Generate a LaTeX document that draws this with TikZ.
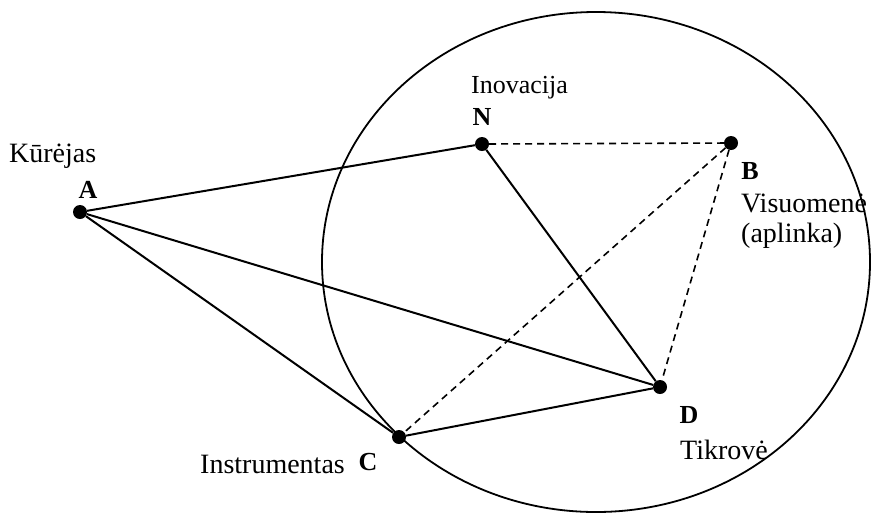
\documentclass[tikz,border=0pt]{standalone}
\usepackage{fontspec}
\setmainfont{Liberation Serif}
\usepackage{tikz}
\usetikzlibrary{positioning, calc}

\tikzset{
  dot/.style={circle, fill=black, inner sep=0pt, minimum size=14pt},
  letter/.style={font=\fontsize{26}{30}\selectfont\bfseries, inner sep=0pt},
  word/.style={font=\fontsize{28}{32}\selectfont, inner sep=0pt, align=left},
  edge/.style={line width=2pt},
  link/.style={line width=1.6pt, dash pattern=on 7pt off 5pt}
}

\begin{document}
\begin{tikzpicture}[x=1pt, y=-1pt]
        \useasboundingbox (0,0) rectangle (872,515);

        % Draw environment
        \draw[line width=1.8pt] (596,262) ellipse [x radius=274, y radius=250];

        % Points
        \node[dot] (a) at (80,212) {};
        \node[dot] (n) at (482,144) {};
        \node[dot] (b) at (731,143) {};
        \node[dot] (d) at (660,387) {};
        \node[dot] (c) at (399,437) {};

        % Links
        \draw[edge] (a) -- (n);
        \draw[edge] (a) -- (d);
        \draw[edge] (a) -- (c);
        \draw[edge] (n) -- (d);
        \draw[edge] (c) -- (d);
        \draw[link] (n) -- (b);
        \draw[link] (b) -- (c);
        \draw[link] (b) -- (d);

        % Labels
        \node[letter] (la) at (88,190) {A};
        \node[letter] (ln) at (482,117) {N};
        \node[letter] (lb) at (750,171) {B};
        \node[letter] (ld) at (689,415) {D};
        \node[letter] (lc) at (368,462) {C};

        \node[word, anchor=base west] (kur) at (9,162) {Kūrėjas};
        \node[word, anchor=base west, font=\fontsize{26}{30}\selectfont] (ino) at (471,93) {Inovacija};
        \node[word, anchor=base west] (vis) at (741,212) {Visuomenė};
        \node[word, anchor=base west] (apl) at (741,242) {(aplinka)};
        \node[word, anchor=base west] (tik) at (680,459) {Tikrovė};
        \node[word, anchor=base west] (ins) at (200,473) {Instrumentas};
      \end{tikzpicture}
\end{document}
